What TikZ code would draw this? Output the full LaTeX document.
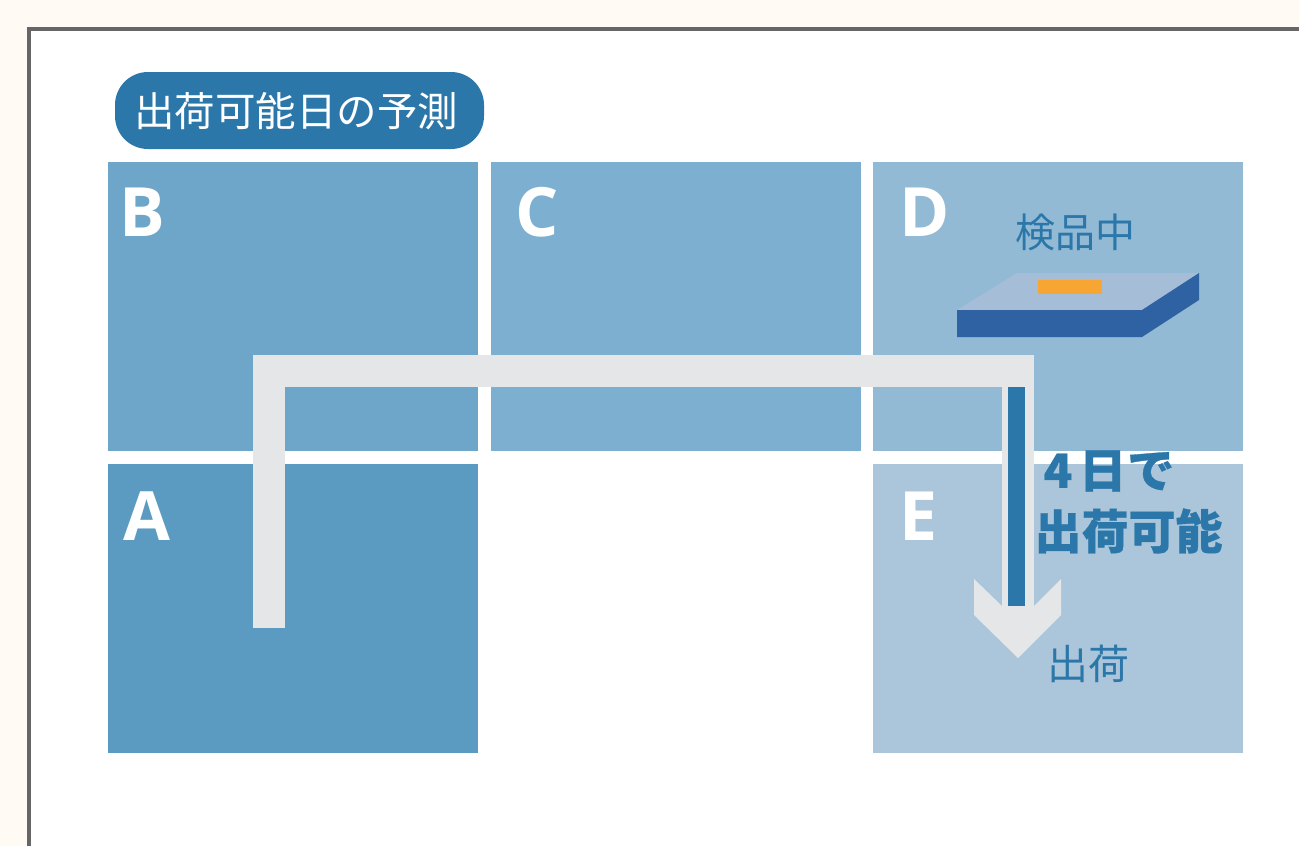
\documentclass[tikz,border=0pt]{standalone}
\usepackage{fontspec}
\setmainfont{Open Sans}
\newfontfamily\jp{Noto Sans CJK JP}
\newfontfamily\jpheavy{Noto Sans CJK JP}[BoldFeatures={FakeBold=0.7}]
\definecolor{pagebg}{HTML}{FFFBF4}
\definecolor{framegray}{HTML}{666666}
\definecolor{titleblue}{HTML}{2C77A9}
\definecolor{cellA}{HTML}{5C9BC1}
\definecolor{cellB}{HTML}{6EA6C9}
\definecolor{cellC}{HTML}{7DB0D0}
\definecolor{cellD}{HTML}{92BAD4}
\definecolor{cellE}{HTML}{ABC6DA}
\definecolor{pathgray}{HTML}{E5E6E8}
\definecolor{slabtop}{HTML}{A6BDD7}
\definecolor{slabdark}{HTML}{2E62A3}
\definecolor{slabmark}{HTML}{F7A533}
\tikzset{
  cell/.style={minimum width=370pt,minimum height=289pt,inner sep=0pt,outer sep=0pt,anchor=north west},
  letter/.style={text=white,inner sep=0pt,font=\fontsize{68}{68}\selectfont\bfseries},
  jplabel/.style={text=titleblue,inner sep=0pt,font=\fontsize{40}{40}\selectfont\jp},
  jpbold/.style={text=titleblue,inner sep=0pt,font=\fontsize{47}{47}\selectfont\jpheavy\bfseries},
}
\begin{document}
\begin{tikzpicture}[x=1pt,y=-1pt]
\useasboundingbox (0,0) rectangle (1299,846);
\fill[pagebg] (0,0) rectangle (1299,846);
\fill[white] (29,29) rectangle (1299,846);
\draw[framegray,line width=3.5pt] (1300,29) -- (29,29) -- (29,847);
\node[fill=titleblue,rounded corners=33pt,minimum width=369pt,minimum height=77pt,inner sep=0pt,outer sep=0pt] (title) at (299.5,110.5) {};
\node[text=white,inner sep=0pt,font=\fontsize{40.5}{40.5}\selectfont\jp] (titletext) at (296,111.5) {出荷可能日の予測};
\node[cell,fill=cellB] (B) at (108,162) {};
\node[cell,fill=cellC] (C) at (491,162) {};
\node[cell,fill=cellD] (D) at (873,162) {};
\node[cell,fill=cellA] (A) at (108,464) {};
\node[cell,fill=cellE] (E) at (873,464) {};
\node[letter] (lb) at (142,212) {B};
\node[letter] (lc) at (537,212) {C};
\node[letter] (ld) at (925,212) {D};
\node[letter] (la) at (147,516) {A};
\node[letter] (le) at (919,516) {E};
% inspection slab
\fill[slabtop] (957,310) -- (1017,273) -- (1199,273) -- (1142,310) -- cycle;
\fill[slabdark] (957,310) -- (1142,310) -- (1199,273) -- (1199,300) -- (1142,337) -- (957,337) -- cycle;
\fill[slabmark] (1038,280) rectangle (1102,294);
\node[jplabel] (kenpin) at (1075,232) {検品中};
% route
\coordinate (start) at (269,628);
\coordinate (c1) at (269,371);
\coordinate (c2) at (1018,371);
\coordinate (stemtop) at (1016.5,387);
\coordinate (stemend) at (1016.5,606);
\coordinate (headend) at (1018,606);
\draw[pathgray,line width=32pt,miter limit=10] (start) -- (c1) -- (c2) -- (headend);
\fill[pathgray] (974,579) -- (1002,606) -- (1034,606) -- (1061,579) -- (1061,615) -- (1018,658) -- (974,615) -- cycle;
\draw[titleblue,line width=17pt] (stemtop) -- (stemend);
\node[jpbold] (four) at (1109,471) {4\hspace{7pt}日\hspace{1pt}で};
\node[jpbold] (ship) at (1128.5,531) {出荷可能};
\node[jplabel,font=\fontsize{41}{41}\selectfont\jp] (shukka) at (1088,664) {出荷};
\end{tikzpicture}
\end{document}
